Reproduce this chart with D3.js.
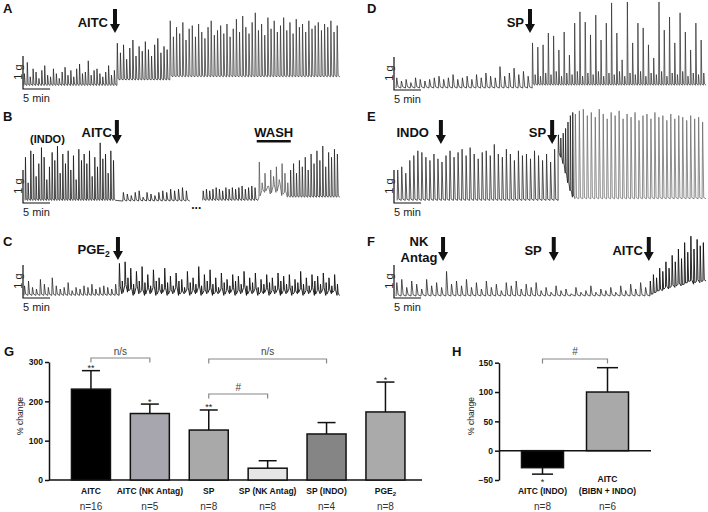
<!DOCTYPE html>
<html><head><meta charset="utf-8">
<script src="https://cdn.jsdelivr.net/npm/d3@7"></script>
<style>body{margin:0;background:#fff}svg{display:block}text{font-family:Arial,"Liberation Sans",sans-serif}</style>
</head><body><svg id="c" width="708" height="512"></svg>
<script>
// ===== Trace data (force in g, time in min) =====
const aTimes = [0, 17.2, 27, 58.5];
const aTroughs = [0.08, 0.25, 0.35];
const aPrePeaks = [0.45,0.8,0.35,0.6,0.5,0.3,0.55,0.7,0.4,0.35,0.6,0.45,0.3,0.5,0.65,0.4,0.55,0.35,0.6,0.75,0.45,0.5,0.85,0.4,0.55,0.6,0.45,0.35,0.5,0.7,0.4,0.55];
const aPost1Peaks = [1.4,1.1,1.35,0.9,1.25,1.5,1.0,1.3,1.15,1.45,1.2,1.0,1.35,1.55,1.1,1.3,1.2];
const aPost2Peaks = [2.1,1.6,1.9,1.7,2.05,1.5,1.85,1.95,1.6,2.0,1.75,1.55,1.9,2.1,1.65,1.8,1.95,1.7,2.0,1.6,1.85,2.15,1.75,2.25,1.9,1.7,2.05,2.35,1.8,2.0,1.65,2.2,1.85,2.1,1.75,1.95,2.2,1.8,2.05,1.7,2.15,1.9,2.0,1.75,2.1,1.85,1.95,2.05,1.8,2.0,1.9,2.1,1.75,1.95];

const bStarts = [0.2, 18.3, 33.1, 43.5, 49.3];
const bEnds = [17.0, 30.7, 43.3, 49.3, 58.5];
const bPrePeaks = [1.4,0.6,1.6,1.5,0.8,1.2,1.7,1.4,0.7,1.1,1.55,1.3,1.75,0.9,1.5,1.2,1.6,1.0,1.45,0.7,1.65,1.3,1.5,1.2,1.6,0.8,1.4,1.1,1.85,1.35,1.5,0.9,1.6,1.3];
const bPost1Peaks = [0.3,0.25,0.2,0.3,0.35,0.15,0.3,0.25,0.2,0.3,0.35,0.3,0.4,0.35,0.4,0.45,0.35];
const bPost2Peaks = [0.35,0.4,0.35,0.4,0.45,0.4,0.35,0.45,0.4,0.45,0.4,0.45,0.5,0.4,0.45,0.5,0.45];
const bWashPeaks = [1.25,0.6,0.9,0.5,1.0,0.8,1.1,0.7,1.2,0.9,0.6];
const bWashTroughs = [0.15,0.35,0.3,0.45,0.25,0.5,0.3,0.55,0.2,0.3,0.15];
const bFinalPeaks = [1.0,1.2,0.9,1.3,1.1,1.4,1.0,1.5,1.2,1.6,1.3,1.75,1.1,1.55,1.4,1.65,1.5];
const bTroughs = [0.05, 0.03, 0.05, null, 0.15];

const cTimes = [0, 17.6, 58.5];
const cPreTrough = 0.05;
const cPrePeaks = [0.35,0.5,0.3,0.25,0.55,0.4,0.3,0.6,0.35,0.25,0.3,0.45,0.2,0.3,0.25,0.35,0.3,0.4,0.25,0.3,0.35,0.3,0.25,0.4];
const cPostPeaks = [1.05,0.5,1.1,0.6,0.9,0.4,0.8,0.5,0.95,0.45,0.7,0.35,0.85,0.5,0.6,0.4,0.9,0.45,0.65,0.35,0.75,0.5,0.55,0.3,0.8,0.45,0.6,0.4,0.95,0.35,0.7,0.5,0.85,0.4,0.6,0.3,0.75,0.45,0.55,0.35,0.7,0.5,0.65,0.4,0.8,0.35,0.6,0.45,0.75,0.3,0.55,0.4,0.7,0.45,0.6,0.35,0.75,0.5,0.65,0.4,0.7,0.35,0.55,0.45,0.8,0.4,0.6,0.35,0.7,0.5,0.65,0.4,0.75,0.45,0.6,0.35,0.7,0.4];
const cPostTroughs = [0.3,0.1,0.35,0.15,0.25,0.05,0.3,0.1,0.2,0.05,0.25,0.1,0.3,0.05,0.2,0.1,0.25,0.05,0.2,0.1,0.3,0.05,0.15,0.1,0.25,0.05,0.2,0.1,0.3,0.05,0.2,0.1,0.25,0.05,0.15,0.1,0.25,0.05,0.2,0.1,0.25,0.05,0.2,0.1,0.3,0.05,0.2,0.1,0.25,0.05,0.15,0.1,0.25,0.05,0.2,0.1,0.25,0.05,0.2,0.1,0.25,0.05,0.15,0.1,0.25,0.05,0.2,0.1,0.25,0.05,0.2,0.1,0.25,0.05,0.2,0.1,0.2,0.05];

const dTimes = [0.2, 25.4, 57.6];
const dTroughs = [0.03, 0.12];
const dPrePeaks = [0.35,0.25,0.3,0.2,0.35,0.3,0.25,0.3,0.35,0.4,0.3,0.35,0.45,0.3,0.35,0.4,0.3,0.45,0.35,0.5,0.4,0.35,0.7,0.4,0.5,0.65,0.45,0.55,0.4];
const dPostPeaks = [1.44,0.45,1.31,0.4,1.38,0.5,1.75,0.45,1.66,0.55,1.22,0.4,1.78,0.5,1.06,0.45,2.06,0.55,2.41,0.4,2.09,0.5,1.69,0.45,2.31,0.55,1.53,0.4,2.06,0.5,2.69,0.45,1.75,0.55,0.91,0.4,2.72,0.5,1.44,0.45,2.06,0.55,1.91,0.4,1.38,0.5,0.97,0.45,2.72,0.55,1.84,0.4,2.25,0.5,1.44,0.45,2.38,0.55,1.78,0.4,1.22,0.5,2.06,0.45,1.53,0.5];

const eTimes = [0.4, 30.2, 33.3, 57.6];
const eTroughs = [0.05, null, 0.1];
const ePrePeaks = [1.0,1.1,0.9,1.3,1.45,1.6,1.55,1.4,1.3,1.5,1.35,1.25,1.45,1.6,1.4,1.55,1.65,1.45,1.7,1.5,1.35,1.55,1.6,1.45,1.8,1.5,1.4,1.65,1.5,1.3,1.6,1.45,1.5,1.35,1.6,1.45,1.3,1.5,1.25,1.65];
const eBlobPeaks = [2.1,2.0,2.15,2.3,2.5,2.7,2.8];
const eBlobTroughs = [1.5,1.4,1.2,0.9,0.6,0.35,0.15];
const ePostPeaks = [2.75,2.85,2.9,2.7,2.8,2.65,2.9,2.75,2.6,2.8,2.7,2.85,2.6,2.75,2.65,2.8,2.55,2.7,2.75,2.6,2.8,2.65,2.7,2.55,2.75,2.6,2.7,2.65,2.55,2.7,2.6,2.65,2.5];

const fTimes = [0.2, 47.2, 57.6];
const fPrePeaks = [0.45,0.55,0.3,0.5,0.4,0.25,0.55,0.35,0.45,0.3,0.8,0.4,0.5,0.35,0.55,0.3,0.45,0.25,0.5,0.3,0.4,0.2,0.45,0.35,0.5,0.25,0.4,0.3,0.45,0.2,0.3,0.15,0.35,0.2,0.25,0.1,0.3,0.15,0.2,0.35,0.15,0.25,0.2,0.3,0.15,0.35,0.2,0.4,0.25,0.45,0.3];
const fPostPeaks = [0.5,0.7,0.6,0.9,0.8,1.1,0.9,1.3,1.1,1.5,1.2,1.7,1.4,1.9,1.5,1.8,1.6,1.7];
const fPostTroughs = [0.05,0.1,0.15,0.2,0.2,0.3,0.25,0.35,0.3,0.4,0.35,0.4,0.45,0.5,0.4,0.5,0.45,0.5];
const fPreTrough = 0.03;

// ===== Bar chart data =====
const gCategories = ["AITC","AITC (NK Antag)","SP","SP (NK Antag)","SP (INDO)","PGE2"];
const gMeans = [231,169,127,30,117,173];
const gErrors = [47,24,51,19,29,76];
const gN = ["n=16","n=5","n=8","n=8","n=4","n=8"];
const gStars = ["**","*","**","","","*"];
const gTicks = [0,100,200,300];

const hCategories = ["AITC (INDO)","AITC (BIBN + INDO)"];
const hLabelLines = [["AITC (INDO)"],["AITC","(BIBN + INDO)"]];
const hMeans = [-29,100];
const hErrors = [11,41.5];
const hN = ["n=8","n=6"];
const hStars = ["*",""];
const hTicks = [-50,0,50,100,150];

// ===== Drawing =====
const svg = d3.select("#c");
const PXMIN = 5.4, PXG = 32;

function segPoints(seg){
  const n = seg.peaks.length, dt = (seg.t1 - seg.t0)/n, pts = [];
  const trAt = i => Array.isArray(seg.tr) ? seg.tr[Math.min(i,seg.tr.length-1)] : seg.tr;
  seg.peaks.forEach((p,i)=>{
    const t = seg.t0 + i*dt;
    pts.push({t, g: trAt(i)});
    pts.push({t: t + dt*0.14, g: p});
    pts.push({t: t + dt*0.42, g: trAt(i) + 0.04});
  });
  pts.push({t: seg.t1, g: trAt(n-1)});
  return pts;
}
function drawTrace(x0, base, segs, colors, breaks, widths){
  const x = d3.scaleLinear().domain([0,60]).range([x0, x0 + 60*PXMIN]);
  const y = d3.scaleLinear().domain([0,1]).range([base, base - PXG]);
  const line = d3.line().x(d=>x(d.t)).y(d=>y(d.g));
  let prev = null;
  segs.forEach((s,k)=>{
    let pts = segPoints(s);
    if (prev && !(breaks||[]).includes(k)) pts = [prev, ...pts];
    svg.append("path").attr("d", line(pts)).attr("fill","none")
      .attr("stroke", colors[k]).attr("stroke-width",(widths||[])[k]||0.75).attr("stroke-linejoin","round");
    prev = pts[pts.length-1];
  });
  svg.append("path").attr("d", `M${x(0)-1},${y(1)}V${y(0)+1}H${x(5)-1}`)
    .attr("fill","none").attr("stroke","#111").attr("stroke-width",1.2);
  svg.append("text").attr("transform",`translate(${x0-2.5},${(y(0)+y(1))/2}) rotate(-90)`)
    .attr("text-anchor","middle").attr("font-size",11).attr("fill","#222").text("1 g");
  svg.append("text").attr("x",x0-1).attr("y",base+14).attr("font-size",11).attr("fill","#222").text("5 min");
  return x;
}
function arrow(x, y0, y1){
  const hw=5, sw=2, hh=9;
  svg.append("path").attr("d",`M${x-sw},${y0}H${x+sw}V${y1-hh}H${x+hw}L${x},${y1}L${x-hw},${y1-hh}H${x-sw}Z`).attr("fill","#111");
}
function label(txt, x, y, anchor, size){
  return svg.append("text").attr("x",x).attr("y",y).attr("text-anchor",anchor||"start")
    .attr("font-size",size||13).attr("font-weight","bold").attr("fill","#111").text(txt);
}

// Panel A
let xs = drawTrace(24, 88, [
  {t0:aTimes[0],t1:aTimes[1],peaks:aPrePeaks,tr:aTroughs[0]},
  {t0:aTimes[1],t1:aTimes[2],peaks:aPost1Peaks,tr:aTroughs[1]},
  {t0:aTimes[2],t1:aTimes[3],peaks:aPost2Peaks,tr:aTroughs[2]}], ["#222","#222","#333"]);
arrow(xs(16.85), 9, 33); label("AITC", xs(16.85)-7, 27, "end");
label("A", 3, 13, "start", 13);

// Panel B
xs = drawTrace(24, 202, [
  {t0:bStarts[0],t1:bEnds[0],peaks:bPrePeaks,tr:bTroughs[0]},
  {t0:bStarts[1],t1:bEnds[1],peaks:bPost1Peaks,tr:bTroughs[1]},
  {t0:bStarts[2],t1:bEnds[2],peaks:bPost2Peaks,tr:bTroughs[2]},
  {t0:bStarts[3],t1:bEnds[3],peaks:bWashPeaks,tr:bWashTroughs},
  {t0:bStarts[4],t1:bEnds[4],peaks:bFinalPeaks,tr:bTroughs[4]}], ["#111","#111","#111","#555","#222"], [2]);
arrow(xs(17.2), 120, 144); label("AITC", xs(17.2)-5, 137, "end");
label("(INDO)", 30, 143, "start", 11);
label("WASH", (xs(43.1)+xs(49.4))/2, 137, "middle", 13);
svg.append("rect").attr("x",xs(43.1)).attr("y",140).attr("width",xs(49.4)-xs(43.1)).attr("height",2.5).attr("fill","#111");
label("...", xs(31.9), 209, "middle", 12);
label("B", 3, 121, "start", 13);

// Panel C
xs = drawTrace(24, 297, [
  {t0:cTimes[0],t1:cTimes[1],peaks:cPrePeaks,tr:cPreTrough},
  {t0:cTimes[1],t1:cTimes[2],peaks:cPostPeaks,tr:cPostTroughs}], ["#222","#111"], [], [0.75,0.9]);
arrow(xs(17.4), 237, 260);
label("PGE", xs(17.4)-13, 254, "end");
svg.append("text").attr("x",xs(17.4)-13).attr("y",257).attr("font-size",8.5).attr("font-weight","bold").attr("fill","#111").text("2");
label("C", 3, 246, "start", 13);

// Panel D
xs = drawTrace(395, 89, [
  {t0:dTimes[0],t1:dTimes[1],peaks:dPrePeaks,tr:dTroughs[0]},
  {t0:dTimes[1],t1:dTimes[2],peaks:dPostPeaks,tr:dTroughs[1]}], ["#222","#333"]);
arrow(xs(25.0), 9, 33); label("SP", xs(25.0)-6, 27, "end");
label("D", 367, 13, "start", 13);

// Panel E
xs = drawTrace(395, 202, [
  {t0:eTimes[0],t1:eTimes[1],peaks:ePrePeaks,tr:eTroughs[0]},
  {t0:eTimes[1],t1:eTimes[2],peaks:eBlobPeaks,tr:eBlobTroughs},
  {t0:eTimes[2],t1:eTimes[3],peaks:ePostPeaks,tr:eTroughs[2]}], ["#222","#111","#6a6a6a"]);
arrow(xs(8.5), 120, 144); label("INDO", xs(8.5)-12, 137, "end");
arrow(xs(29.1), 120, 144); label("SP", xs(29.1)-6, 137, "end");
label("E", 367, 121, "start", 13);

// Panel F
xs = drawTrace(395, 297, [
  {t0:fTimes[0],t1:fTimes[1],peaks:fPrePeaks,tr:fPreTrough},
  {t0:fTimes[1],t1:fTimes[2],peaks:fPostPeaks,tr:fPostTroughs}], ["#222","#111"], [], [0.75,0.9]);
arrow(xs(8.9), 237, 261); label("NK", 419, 246, "middle"); label("Antag", 419, 262, "middle");
arrow(xs(29.4), 237, 261); label("SP", xs(29.4)-12, 255, "end");
arrow(xs(47.0), 237, 261); label("AITC", xs(47.0)-6, 255, "end");
label("F", 367, 246, "start", 13);

// ===== Panel G =====
label("G", 4, 356, "start", 13);
const gx = d3.scaleBand().domain(gCategories).range([61.5,414.9]).paddingInner(0.338).paddingOuter(0.169);
const gy = d3.scaleLinear().domain([0,300]).range([480,362]);
const gFill = ["#000","#a7a6ae","#a9a9a9","#e6e6e6","#858585","#aaaaaa"];
function styleAxis(g){
  g.select(".domain").attr("stroke","#111").attr("stroke-width",1.5);
  g.selectAll(".tick line").attr("stroke","#111").attr("stroke-width",1.5);
  g.selectAll(".tick text").attr("font-size",8.5).attr("font-weight","bold").attr("fill","#111")
    .attr("font-family","Arial, 'Liberation Sans', sans-serif");
}
svg.append("g").attr("transform","translate(49,0)")
  .call(d3.axisLeft(gy).tickValues(gTicks).tickSize(4).tickSizeOuter(0).tickPadding(2)).call(styleAxis);
svg.append("line").attr("x1",49).attr("x2",422).attr("y1",gy(0)).attr("y2",gy(0)).attr("stroke","#111").attr("stroke-width",1.5);
gCategories.forEach((c,i)=>{
  const cx = gx(c)+gx.bandwidth()/2, bw = gx.bandwidth();
  svg.append("line").attr("x1",cx).attr("x2",cx).attr("y1",gy(gMeans[i])).attr("y2",gy(gMeans[i]+gErrors[i])).attr("stroke","#111").attr("stroke-width",1.5);
  svg.append("line").attr("x1",cx-9).attr("x2",cx+9).attr("y1",gy(gMeans[i]+gErrors[i])).attr("y2",gy(gMeans[i]+gErrors[i])).attr("stroke","#111").attr("stroke-width",1.5);
  svg.append("rect").attr("x",gx(c)).attr("y",gy(gMeans[i])).attr("width",bw).attr("height",gy(0)-gy(gMeans[i]))
    .attr("fill",gFill[i]).attr("stroke","#111").attr("stroke-width",1.5);
  if (gStars[i]) svg.append("text").attr("x",cx).attr("y",gy(gMeans[i]+gErrors[i])+0.5).attr("text-anchor","middle").attr("font-size",9).attr("fill","#222").text(gStars[i]);
  const lab = svg.append("text").attr("x",cx).attr("y",494).attr("text-anchor","middle").attr("font-size",8.5).attr("font-weight","bold").attr("fill","#111");
  if (c === "PGE2"){ lab.append("tspan").text("PGE"); lab.append("tspan").attr("font-size",6).attr("dy",2).text("2"); }
  else lab.text(c);
  svg.append("text").attr("x",cx).attr("y",510).attr("text-anchor","middle").attr("font-size",10).attr("fill","#333").text(gN[i]);
});
function bracket(x1,x2,y,txt,ty){
  svg.append("path").attr("d",`M${x1},${y+4.5}V${y}H${x2}V${y+4.5}`).attr("fill","none").attr("stroke","#888").attr("stroke-width",1.2);
  svg.append("text").attr("x",(x1+x2)/2).attr("y",ty).attr("text-anchor","middle").attr("font-size",10).attr("fill","#444").text(txt);
}
const gc = c => gx(c)+gx.bandwidth()/2;
bracket(gc("AITC"), gc("AITC (NK Antag)"), 358, "n/s", 355);
bracket(gc("SP"), gc("SP (INDO)"), 359, "n/s", 355);
bracket(gc("SP"), gc("SP (NK Antag)"), 394, "#", 391);
svg.append("text").attr("transform","translate(23,416) rotate(-90)").attr("text-anchor","middle").attr("font-size",8.5).attr("fill","#222").text("% change");

// ===== Panel H =====
label("H", 452, 356, "start", 13);
const hx = d3.scaleBand().domain(hCategories).range([499,651]).paddingInner(0.354).paddingOuter(0.346);
const hy = d3.scaleLinear().domain([-50,150]).range([480,362.7]);
const hFill = ["#000","#a9a9a9"];
svg.append("g").attr("transform","translate(499,0)")
  .call(d3.axisLeft(hy).tickValues(hTicks).tickSize(4).tickSizeOuter(0).tickPadding(2)).call(styleAxis);
hCategories.forEach((c,i)=>{
  const cx = hx(c)+hx.bandwidth()/2, bw = hx.bandwidth();
  const v = hMeans[i], e = v >= 0 ? v + hErrors[i] : v - hErrors[i];
  svg.append("line").attr("x1",cx).attr("x2",cx).attr("y1",hy(v)).attr("y2",hy(e)).attr("stroke","#111").attr("stroke-width",1.5);
  svg.append("line").attr("x1",cx-10.5).attr("x2",cx+10.5).attr("y1",hy(e)).attr("y2",hy(e)).attr("stroke","#111").attr("stroke-width",1.5);
  svg.append("rect").attr("x",hx(c)).attr("y",hy(Math.max(v,0))).attr("width",bw).attr("height",Math.abs(hy(v)-hy(0)))
    .attr("fill",hFill[i]).attr("stroke","#111").attr("stroke-width",1.5);
  if (hStars[i]) svg.append("text").attr("x",cx).attr("y",hy(e)+11).attr("text-anchor","middle").attr("font-size",9).attr("fill","#222").text(hStars[i]);
  const lines = hLabelLines[i];
  lines.forEach((ln,j)=>{
    svg.append("text").attr("x",cx).attr("y",494 - (lines.length-1-j)*12).attr("text-anchor","middle").attr("font-size",8.5).attr("font-weight","bold").attr("fill","#111").text(ln);
  });
  svg.append("text").attr("x",cx).attr("y",510).attr("text-anchor","middle").attr("font-size",10).attr("fill","#333").text(hN[i]);
});
svg.append("line").attr("x1",499).attr("x2",651).attr("y1",hy(0)).attr("y2",hy(0)).attr("stroke","#111").attr("stroke-width",1.5);
bracket(hx(hCategories[0])+hx.bandwidth()/2, hx(hCategories[1])+hx.bandwidth()/2, 359, "#", 355);
svg.append("text").attr("transform","translate(474,416) rotate(-90)").attr("text-anchor","middle").attr("font-size",8.5).attr("fill","#222").text("% change");
</script></body></html>
